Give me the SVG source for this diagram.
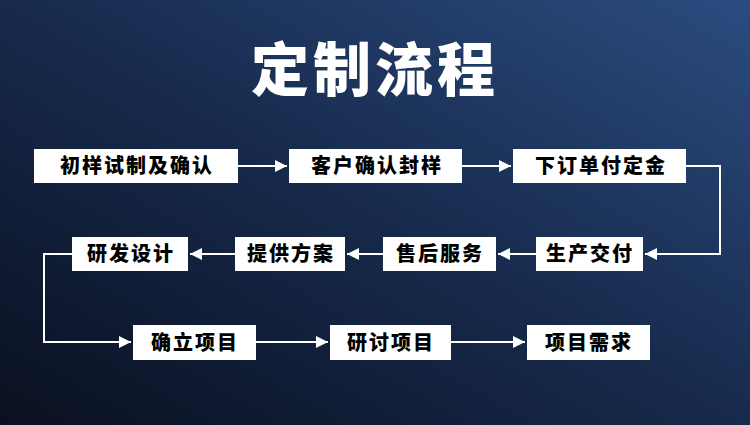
<svg xmlns="http://www.w3.org/2000/svg" width="750" height="425" viewBox="0 0 750 425">
<defs>
<linearGradient id="bg" x1="0" y1="1" x2="1" y2="0">
<stop offset="0" stop-color="#0a1020"/>
<stop offset="0.5" stop-color="#172a4c"/>
<stop offset="1" stop-color="#2b4c80"/>
</linearGradient>
<marker id="ah" viewBox="0 0 10 10" refX="10" refY="5" markerWidth="12" markerHeight="12" markerUnits="userSpaceOnUse" orient="auto">
<path d="M0,0L10,5L0,10z" fill="#fff"/>
</marker>
<style>
.b{fill:#fff}
.t{font-family:"Noto Sans CJK SC",sans-serif;font-weight:900;font-size:20px;fill:#000;text-anchor:middle;letter-spacing:2px}
.c{fill:none;stroke:#fff;stroke-width:2;marker-end:url(#ah)}
</style>
</defs>
<rect width="750" height="425" fill="url(#bg)"/>
<text x="375" y="91" font-family="Noto Sans CJK SC,sans-serif" font-weight="900" font-size="58" fill="#fff" text-anchor="middle" letter-spacing="4">定制流程</text>
<g id="connectors">
<path class="c" d="M238,166H287"/>
<path class="c" d="M462,166H511"/>
<path class="c" d="M686,166H720V254H645"/>
<path class="c" d="M536,254H498"/>
<path class="c" d="M383,254H347"/>
<path class="c" d="M235,254H190"/>
<path class="c" d="M72,254H44V342H131"/>
<path class="c" d="M256,342H328"/>
<path class="c" d="M451,342H525"/>
</g>
<g id="n1"><rect class="b" x="34" y="149" width="204" height="34"/><text class="t" x="137" y="173">初样试制及确认</text></g>
<g id="n2"><rect class="b" x="289" y="149" width="173" height="34"/><text class="t" x="377" y="173">客户确认封样</text></g>
<g id="n3"><rect class="b" x="513" y="149" width="173" height="34"/><text class="t" x="601" y="173">下订单付定金</text></g>
<g id="n4"><rect class="b" x="536" y="237" width="107" height="34"/><text class="t" x="590" y="261">生产交付</text></g>
<g id="n5"><rect class="b" x="383" y="237" width="113" height="34"/><text class="t" x="440" y="261">售后服务</text></g>
<g id="n6"><rect class="b" x="235" y="237" width="110" height="34"/><text class="t" x="291" y="261">提供方案</text></g>
<g id="n7"><rect class="b" x="72" y="237" width="116" height="34"/><text class="t" x="131" y="261">研发设计</text></g>
<g id="n8"><rect class="b" x="133" y="325" width="123" height="35"/><text class="t" x="195" y="350">确立项目</text></g>
<g id="n9"><rect class="b" x="330" y="325" width="121" height="35"/><text class="t" x="391" y="350">研讨项目</text></g>
<g id="n10"><rect class="b" x="527" y="325" width="123" height="35"/><text class="t" x="589" y="350">项目需求</text></g>
</svg>
